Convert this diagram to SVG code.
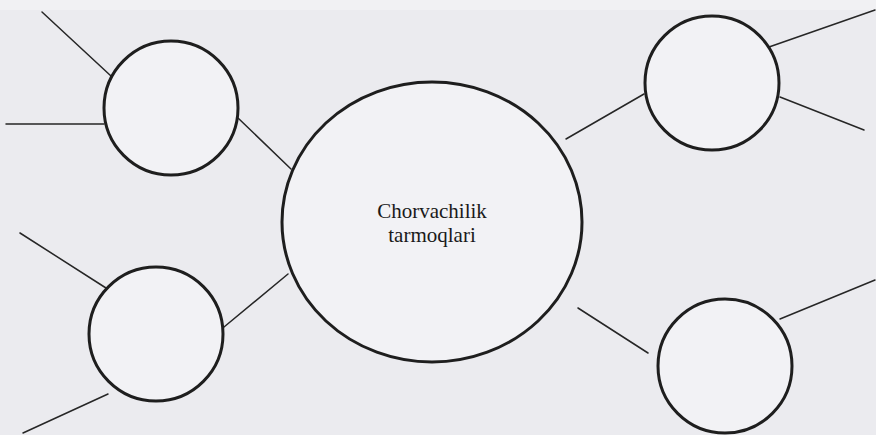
<svg xmlns="http://www.w3.org/2000/svg" width="876" height="435" viewBox="0 0 876 435">
  <style>
    .node { fill: #f2f2f5; stroke: #1e1e1e; stroke-width: 3; }
    .conn line { stroke: #262626; stroke-width: 1.5; stroke-linecap: round; }
    .label { font-family: "Liberation Serif", "Times New Roman", serif; font-size: 21px; fill: #1a1a1a; text-anchor: middle; }
  </style>
  <rect x="0" y="0" width="876" height="435" fill="#ebebef"/>
  <rect x="0" y="0" width="876" height="10" fill="#f1f1f3"/>
  <g class="conn" id="connectors">
    <line x1="42" y1="12" x2="111" y2="76"/>
    <line x1="6" y1="124" x2="104" y2="124"/>
    <line x1="238" y1="118" x2="291" y2="169"/>
    <line x1="566" y1="139" x2="644" y2="94"/>
    <line x1="769" y1="47" x2="875" y2="10"/>
    <line x1="780" y1="97" x2="864" y2="130"/>
    <line x1="20" y1="233" x2="106" y2="288"/>
    <line x1="23" y1="433" x2="108" y2="394"/>
    <line x1="224" y1="327" x2="288" y2="274"/>
    <line x1="578" y1="308" x2="648" y2="353"/>
    <line x1="780" y1="319" x2="875" y2="280"/>
  </g>
  <g id="center">
    <ellipse class="node" cx="432" cy="222" rx="150" ry="140"/>
    <text class="label" x="432" y="218">Chorvachilik</text>
    <text class="label" x="432" y="242">tarmoqlari</text>
  </g>
  <g id="node-top-left">
    <circle class="node" cx="171" cy="108" r="67"/>
  </g>
  <g id="node-top-right">
    <circle class="node" cx="712" cy="83" r="67"/>
  </g>
  <g id="node-bottom-left">
    <circle class="node" cx="156" cy="334" r="67"/>
  </g>
  <g id="node-bottom-right">
    <circle class="node" cx="725" cy="366" r="67"/>
  </g>
</svg>
